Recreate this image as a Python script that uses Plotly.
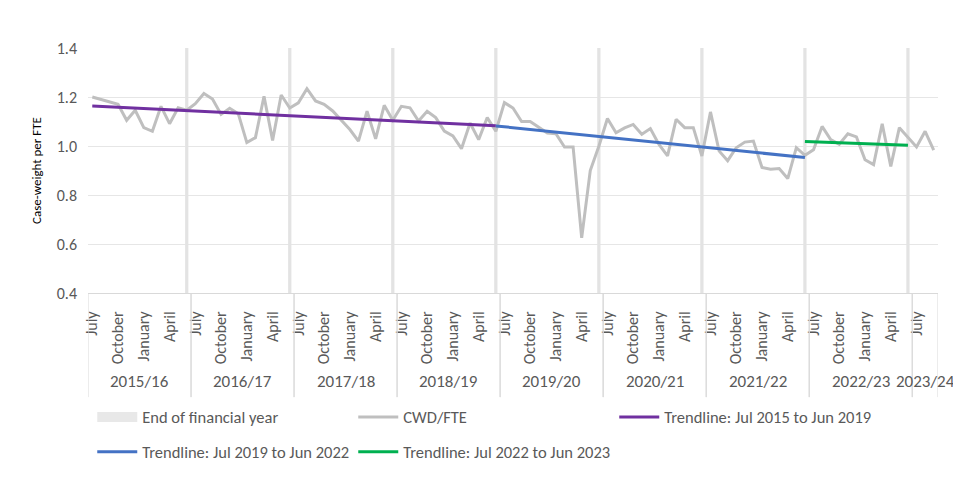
import plotly.graph_objects as go

# ---- data -------------------------------------------------------------
month_names = ["Jul", "Aug", "Sep", "Oct", "Nov", "Dec",
               "Jan", "Feb", "Mar", "Apr", "May", "Jun"]
fy_labels = ["2015/16", "2016/17", "2017/18", "2018/19", "2019/20",
             "2020/21", "2021/22", "2022/23", "2023/24"]
tick_month_labels = {"Jul": "July", "Oct": "October", "Jan": "January", "Apr": "April"}

# monthly categories Jul 2015 .. Sep 2023
months = []
for k, fy in enumerate(fy_labels):
    y0 = 2015 + k
    for m in month_names:
        yr = y0 if m in ("Jul", "Aug", "Sep", "Oct", "Nov", "Dec") else y0 + 1
        months.append(f"{m} {yr}")
months = months[:99]

cwd_fte = [
    1.20, 1.19, 1.18, 1.17, 1.105, 1.146, 1.075, 1.06, 1.162, 1.091, 1.156, 1.146,
    1.173, 1.214, 1.192, 1.129, 1.154, 1.132, 1.014, 1.034, 1.203, 1.023, 1.208, 1.155,
    1.176, 1.234, 1.184, 1.17, 1.143, 1.105, 1.067, 1.02, 1.142, 1.029, 1.166, 1.105,
    1.162, 1.156, 1.102, 1.142, 1.116, 1.061, 1.041, 0.989, 1.094, 1.026, 1.116, 1.06,
    1.177, 1.155, 1.10, 1.10, 1.078, 1.053, 1.05, 0.996, 0.996, 0.625, 0.90, 0.999,
    1.112, 1.054, 1.074, 1.088, 1.048, 1.071, 1.006, 0.96, 1.109, 1.075, 1.075, 0.959,
    1.139, 0.98, 0.94, 0.993, 1.016, 1.02, 0.912, 0.905, 0.908, 0.867, 0.993, 0.962,
    0.985, 1.08, 1.026, 1.007, 1.05, 1.037, 0.944, 0.924, 1.091, 0.917, 1.075, 1.034,
    0.996, 1.06, 0.983,
]

fy_end_months = ["Jun 2016", "Jun 2017", "Jun 2018", "Jun 2019",
                 "Jun 2020", "Jun 2021", "Jun 2022", "Jun 2023"]
fy_end_height = [1.4, 1.4, 1.4, 1.4, 1.4, 1.4, 1.4, 1.4]

trend1_x = ["Jul 2015", "Jun 2019"]
trend1_y = [1.163, 1.083]
trend2_x = ["Jun 2019", "Jun 2022"]
trend2_y = [1.082, 0.953]
trend3_x = ["Jun 2022", "Jun 2023"]
trend3_y = [1.018, 1.003]

# ---- styling ----------------------------------------------------------
FONT = "Carlito, Lato, sans-serif"
TXT = "#595959"
FS = 16
LFS = 16.5

fig = go.Figure()

fig.add_trace(go.Bar(x=fy_end_months, y=fy_end_height, marker_color="#e3e3e3",
                     marker_line_width=0, width=0.38, showlegend=False,
                     hoverinfo="skip"))
fig.add_trace(go.Scatter(x=[None], y=[None], mode="lines",
                         line=dict(color="#e8e8e8", width=12),
                         name="End of financial year", legend="legend"))
fig.add_trace(go.Scatter(x=months, y=cwd_fte, mode="lines",
                         line=dict(color="#bfbfbf", width=3),
                         name="CWD/FTE", legend="legend"))
fig.add_trace(go.Scatter(x=trend1_x, y=trend1_y, mode="lines",
                         line=dict(color="#7030a0", width=3),
                         name="Trendline: Jul 2015 to Jun 2019", legend="legend"))
fig.add_trace(go.Scatter(x=trend2_x, y=trend2_y, mode="lines",
                         line=dict(color="#4472c4", width=3),
                         name="Trendline: Jul 2019 to Jun 2022", legend="legend2"))
fig.add_trace(go.Scatter(x=trend3_x, y=trend3_y, mode="lines",
                         line=dict(color="#00b050", width=3),
                         name="Trendline: Jul 2022 to Jun 2023", legend="legend2"))

# month tick labels
tickvals = [m for m in months if m.split()[0] in tick_month_labels]
ticktext = [tick_month_labels[m.split()[0]] for m in tickvals]

# financial-year group labels and separators
shapes = []
annotations = []
n = len(months)
for k, fy in enumerate(fy_labels):
    start = 12 * k
    end = min(12 * k + 11, n - 1)
    annotations.append(dict(x=(start + end) / 2, y=-0.363, xref="x", yref="paper",
                            text=fy, showarrow=False, yanchor="middle",
                            font=dict(family=FONT, size=17, color=TXT)))
    for b in (start - 0.5, end + 0.5):
        shapes.append(dict(type="line", xref="x", yref="paper", x0=b, x1=b,
                           y0=0, y1=-0.425, line=dict(color="#d9d9d9", width=1)))

# page body has an 8px margin, so the figure is smaller than the window
fig.update_layout(
    width=945, height=463,
    margin=dict(l=80, r=15, t=40, b=178, autoexpand=False),
    paper_bgcolor="white", plot_bgcolor="white",
    font=dict(family=FONT, size=FS, color=TXT),
    barmode="overlay",
    shapes=shapes, annotations=annotations,
    legend=dict(orientation="h", x=0.005, xanchor="left",
                yref="container", y=0.154, yanchor="top",
                entrywidth=206, entrywidthmode="pixels", itemwidth=40,
                font=dict(family=FONT, size=LFS, color=TXT), bgcolor="rgba(0,0,0,0)"),
    legend2=dict(orientation="h", x=0.005, xanchor="left",
                 yref="container", y=0.079, yanchor="top",
                 entrywidth=206, entrywidthmode="pixels", itemwidth=40,
                 font=dict(family=FONT, size=LFS, color=TXT), bgcolor="rgba(0,0,0,0)"),
)

fig.update_xaxes(type="category", categoryorder="array", categoryarray=months,
                 range=[-0.5, n - 0.5], tickmode="array", tickvals=tickvals,
                 ticktext=ticktext, tickangle=-90, showgrid=False,
                 showline=True, linecolor="#d9d9d9", linewidth=1,
                 ticks="", ticklabelstandoff=11, automargin=False,
                 tickfont=dict(family=FONT, size=FS, color=TXT))
fig.update_yaxes(range=[0.4, 1.4], dtick=0.2, tick0=0.4, tickformat=".1f",
                 showgrid=True, gridcolor="#e6e6e6", gridwidth=1,
                 zeroline=False, showline=False, ticks="", ticklabelstandoff=10,
                 automargin=False,
                 tickfont=dict(family=FONT, size=FS, color=TXT),
                 title=dict(text="Case-weight per FTE", standoff=12,
                            font=dict(family=FONT, size=13, color="#000000")))

fig.write_html("out.html")
